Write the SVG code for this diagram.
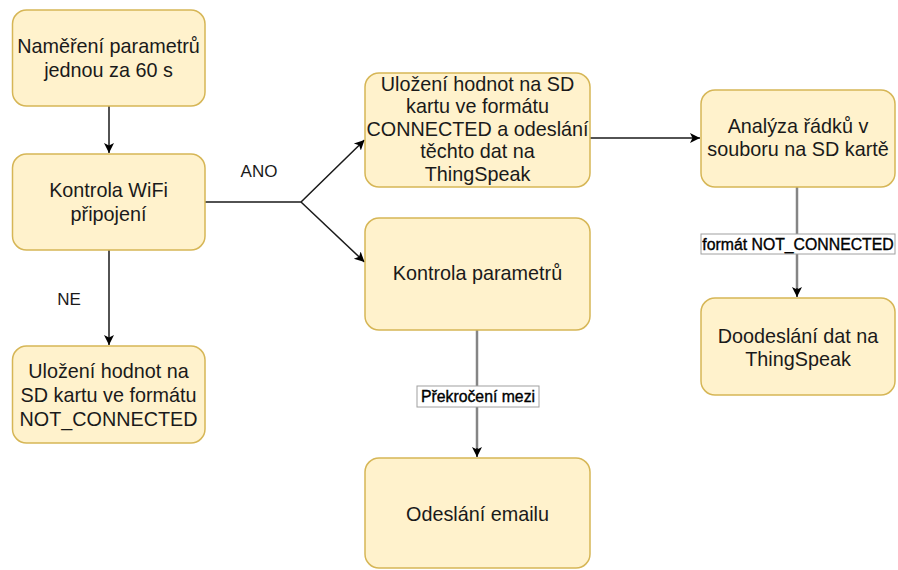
<svg xmlns="http://www.w3.org/2000/svg" width="898" height="570" viewBox="0 0 898 570">
<defs>
<style>
.n{fill:#fff2cc;stroke:#d6b656;stroke-width:1.5}
.t{font-family:"Liberation Sans",Arial,sans-serif;font-size:19.8px;fill:#1a1a1a;text-anchor:middle}
.c{fill:none;stroke:#1a1a1a;stroke-width:1.5}
.g{fill:none;stroke:#858585;stroke-width:2.5}
.lb{fill:#ffffff;stroke:#a0a0a0;stroke-width:1}
.lt{font-family:"Liberation Sans",Arial,sans-serif;font-size:15.8px;fill:#000;stroke:#000;stroke-width:0.35;text-anchor:middle}
.el{font-family:"Liberation Sans",Arial,sans-serif;font-size:17px;fill:#1a1a1a;text-anchor:middle}
</style>
<marker id="a" markerUnits="userSpaceOnUse" markerWidth="14" markerHeight="14" refX="10" refY="5" orient="auto" viewBox="0 0 14 10">
<path d="M0,0 L10,5 L0,10 L2.5,5 Z" fill="#000"/>
</marker>
</defs>
<g id="connectors">
<path class="c" d="M109,106 L109,153" marker-end="url(#a)"/>
<path class="c" d="M109,250 L109,345" marker-end="url(#a)"/>
<path class="c" d="M205,202 L301,202 L364.5,140" marker-end="url(#a)"/>
<path class="c" d="M301,202 L364.5,262" marker-end="url(#a)"/>
<path class="c" d="M590,138 L700,138" marker-end="url(#a)"/>
<path class="g" d="M477,330 L477,450"/>
<path class="c" d="M477,448 L477,457" marker-end="url(#a)"/>
<path class="g" d="M797,187 L797,290"/>
<path class="c" d="M797,288 L797,297" marker-end="url(#a)"/>
<text class="el" x="259" y="177">ANO</text>
<text class="el" x="69" y="305">NE</text>
<rect class="lb" x="417" y="386" width="122" height="21"/>
<text class="lt" x="478" y="402">Překročení mezi</text>
<rect class="lb" x="701" y="234" width="194" height="20"/>
<text class="lt" x="798" y="249.5">formát NOT_CONNECTED</text>
</g>
<g id="n1">
<rect class="n" x="12.5" y="10" width="192.5" height="96" rx="14"/>
<text class="t" x="108.5" y="53">Naměření parametrů</text>
<text class="t" x="108.5" y="77">jednou za 60 s</text>
</g>
<g id="n2">
<rect class="n" x="12.5" y="154" width="192.5" height="96" rx="14"/>
<text class="t" x="108.5" y="197">Kontrola WiFi</text>
<text class="t" x="108.5" y="221">připojení</text>
</g>
<g id="n3">
<rect class="n" x="12.5" y="346" width="192.5" height="97" rx="14"/>
<text class="t" x="108.5" y="378">Uložení hodnot na</text>
<text class="t" x="108.5" y="402">SD kartu ve formátu</text>
<text class="t" x="108.5" y="426">NOT_CONNECTED</text>
</g>
<g id="n4">
<rect class="n" x="365" y="73" width="225" height="114" rx="14"/>
<text class="t" x="477.5" y="90.5">Uložení hodnot na SD</text>
<text class="t" x="477.5" y="113">kartu ve formátu</text>
<text class="t" x="477.5" y="135.5">CONNECTED a odeslání</text>
<text class="t" x="477.5" y="158">těchto dat na</text>
<text class="t" x="477.5" y="180.5">ThingSpeak</text>
</g>
<g id="n5">
<rect class="n" x="365" y="218" width="225" height="112" rx="14"/>
<text class="t" x="477.5" y="280">Kontrola parametrů</text>
</g>
<g id="n6">
<rect class="n" x="365" y="458" width="225" height="110" rx="14"/>
<text class="t" x="477.5" y="521">Odeslání emailu</text>
</g>
<g id="n7">
<rect class="n" x="701" y="90" width="194" height="97" rx="14"/>
<text class="t" x="798" y="133">Analýza řádků v</text>
<text class="t" x="798" y="156">souboru na SD kartě</text>
</g>
<g id="n8">
<rect class="n" x="701" y="298" width="194" height="97" rx="14"/>
<text class="t" x="798" y="343">Doodeslání dat na</text>
<text class="t" x="798" y="366">ThingSpeak</text>
</g>
</svg>
